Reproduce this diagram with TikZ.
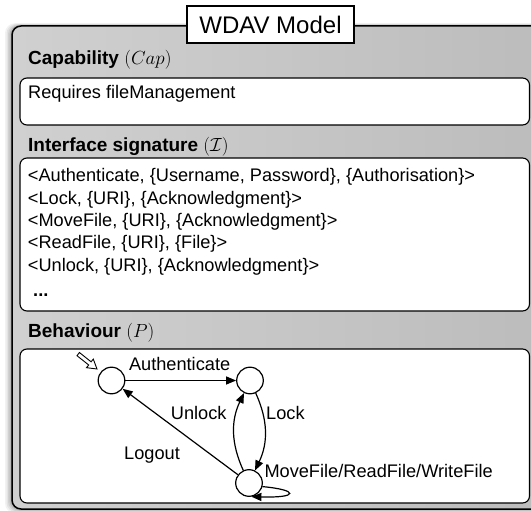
\documentclass[tikz,border=0pt]{standalone}
\usepackage{fix-cm}
\usepackage{fontspec}
\setmainfont{Liberation Sans}
\usetikzlibrary{arrows.meta}
\definecolor{paneltop}{RGB}{208,208,208}
\definecolor{panelright}{RGB}{188,188,188}
\begin{document}
\begin{tikzpicture}[x=1pt,y=-1pt,
  body/.style={anchor=base west, inner sep=0pt, font=\fontsize{18.2}{22}\selectfont},
  head/.style={anchor=base west, inner sep=0pt, font=\fontsize{19}{23}\selectfont},
  panel/.style={draw=black, fill=white, line width=1.1pt, rounded corners=7pt},
  state/.style={circle, draw, line width=1.2pt, fill=white, minimum size=26.6pt, inner sep=0pt},
  trans/.style={line width=1.2pt, -{Triangle[length=10pt,width=8pt]}},
  lbl/.style={inner sep=0pt, font=\fontsize{18.2}{22}\selectfont}]
\useasboundingbox (0,0) rectangle (531,511);
\clip (0,0) rectangle (531,511);
\fill[white] (0,0) rectangle (531,511);
% soft shadow of the outer panel
\foreach \d/\o in {7/0.05,5.5/0.06,4/0.08,2.5/0.1,1/0.12}
  \fill[black, opacity=\o, rounded corners=10pt] (12-\d,26-\d*0.4) rectangle (545,509+\d*0.6);
% outer panel
\draw[line width=1.5pt, rounded corners=9pt, left color=paneltop, right color=panelright] (12,26) rectangle (545,509);
% title
\node[draw, fill=white, line width=1.1pt, minimum width=167pt, minimum height=37pt, inner sep=0pt,
      font=\fontsize{24}{28}\selectfont] (title) at (270.5,24.5) {WDAV Model};
% capability
\node[head] (caph) at (28,65) {\textbf{Capability} $(Cap)$};
\draw[panel] (20,78) rectangle (529.5,125);
\node[body] (capt) at (28,99) {Requires fileManagement};
% interface
\node[head] (intfh) at (28,152) {\textbf{Interface signature} $(\mathcal{I})$};
\draw[panel] (20,158) rectangle (529.5,311);
\node[body] (i1) at (27.7,182) {<Authenticate, \{Username, Password\}, \{Authorisation\}>};
\node[body] (i2) at (27.7,204.3) {<Lock, \{URI\}, \{Acknowledgment\}>};
\node[body] (i3) at (27.7,226.5) {<MoveFile, \{URI\}, \{Acknowledgment\}>};
\node[body] (i4) at (27.7,248.8) {<ReadFile, \{URI\}, \{File\}>};
\node[body] (i5) at (27.7,271) {<Unlock, \{URI\}, \{Acknowledgment\}>};
\node[body] (i6) at (33,296) {\textbf{...}};
% behaviour
\node[head] (behh) at (28,337) {\textbf{Behaviour} $(P)$};
\draw[panel] (20,349) rectangle (529.5,503);
% states
\node[state] (s1) at (111.5,380.5) {};
\node[state] (s2) at (250,380.5) {};
\node[state] (s3) at (249,483) {};
% initial arrow (hollow)
\draw[line width=0.9pt, fill=white, line join=miter]
  (77.0,355.7) -- (88.7,365.0) -- (86.5,367.7) -- (97,369) -- (93.3,359.1) -- (91.1,361.8) -- (79.4,352.5) -- cycle;
% transitions
\draw[trans] (s1) -- (s2);
\draw[trans] (s2) to[bend left=25] (s3);
\draw[trans] (s3) to[bend left=25] (s2);
\draw[trans] (s3) -- (s1);
\draw[trans] (s3.-15) .. controls (299,490) and (299,498) .. (s3.-80);
% labels
\node[lbl, anchor=base] (la) at (179.6,370.7) {Authenticate};
\node[lbl, anchor=base east] (lu) at (226.7,419.3) {Unlock};
\node[lbl, anchor=base west] (ll) at (266,419.3) {Lock};
\node[lbl, anchor=base west] (lo) at (124,459.3) {Logout};
\node[lbl, anchor=base west] (lm) at (264.3,477.3) {MoveFile/ReadFile/WriteFile};
\end{tikzpicture}
\end{document}
